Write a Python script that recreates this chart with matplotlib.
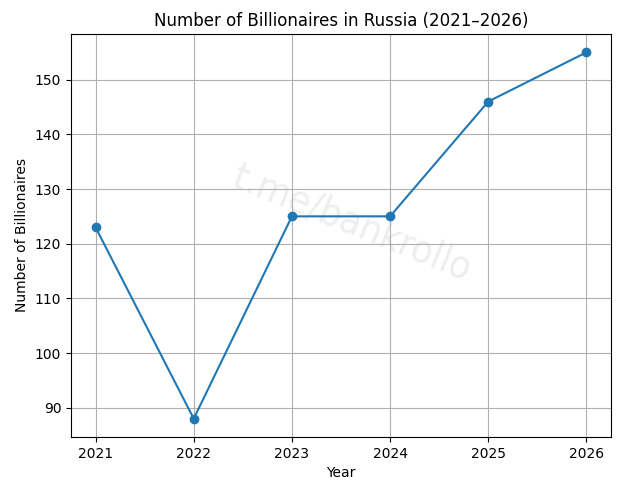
import matplotlib
matplotlib.use("Agg")
import matplotlib.pyplot as plt

years = [2021, 2022, 2023, 2024, 2025, 2026]
billionaires = [123, 88, 125, 125, 146, 155]

fig = plt.figure(figsize=(6.2, 4.94), dpi=100)
ax = fig.add_axes([0.1145, 0.1154, 0.8710, 0.8158])
ax.plot(years, billionaires, marker='o', color='#1f77b4')
ax.set_title("Number of Billionaires in Russia (2021–2026)")
ax.set_xlabel("Year")
ax.set_ylabel("Number of Billionaires")
ax.set_xticks(years)
ax.grid(True)
ax.text(0.52, 0.53, "t.me/bankrollo", transform=ax.transAxes, fontsize=28,
        color='#eeeeee', rotation=-22, ha='center', va='center',
        fontstretch='condensed', zorder=0)
fig.savefig("out.png", dpi=100)
